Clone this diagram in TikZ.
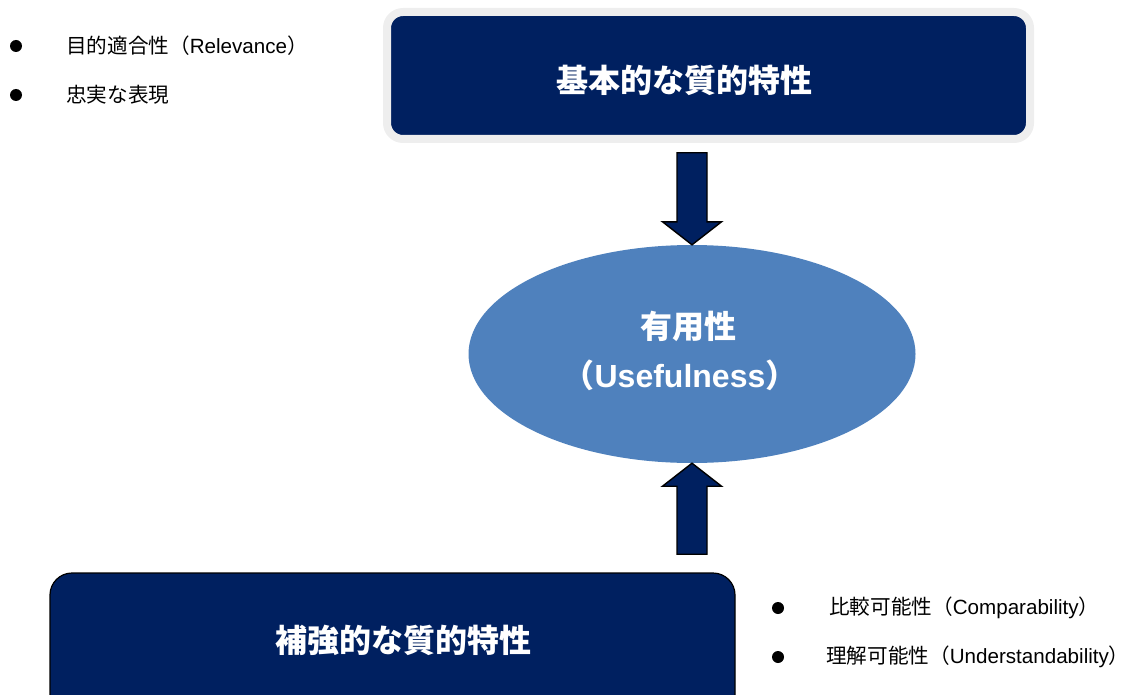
\documentclass[tikz,border=0pt]{standalone}
\usepackage{fontspec}
\setmainfont{Liberation Sans}
\newfontfamily\jp{Noto Sans CJK JP}
\usetikzlibrary{shapes.geometric}
\definecolor{navy}{RGB}{0,32,96}
\definecolor{ellblue}{RGB}{79,129,189}
\definecolor{rimgray}{RGB}{238,238,238}
\newcommand{\rpar}{\makebox[0.45em][l]{\jp ）}}
\tikzset{
  titlebox/.style={rounded corners=16pt, fill=navy, inner sep=0pt},
  titletext/.style={text=white, font=\jp\bfseries\fontsize{32}{36}\selectfont, inner sep=0pt},
  elltext/.style={text=white, font=\bfseries\fontsize{32}{36}\selectfont, inner sep=0pt},
  bigarrow/.style={fill=navy, draw=black, line width=1.4pt, line join=miter},
  dot/.style={circle, fill=black, inner sep=0pt, minimum size=12pt},
  itemtext/.style={anchor=west, inner sep=0pt, font=\fontsize{20.6}{24}\selectfont}
}
\begin{document}
\begin{tikzpicture}[x=1pt,y=-1pt]
\useasboundingbox (0,0) rectangle (1131,695);
\clip (0,0) rectangle (1131,695);
% top box
\node[titlebox, draw=rimgray, line width=8pt, minimum width=643pt, minimum height=127pt] (top) at (708.5,75.5) {};
\node[titletext] (toptext) at (684,80) {基本的な質的特性};
% ellipse
\node[ellipse, fill=ellblue, minimum width=447pt, minimum height=218pt, inner sep=0pt] (ell) at (692,354) {};
\node[elltext] (u1) at (688,326) {\jp 有用性};
\node[elltext] (u2) at (680,375) {{\jp （}Usefulness{\jp ）}};
% arrows
\draw[bigarrow] (ell.north) -- ++(-29.5,-23) -- ++(14.5,0) -- ++(0,-69) -- ++(30,0) -- ++(0,69) -- ++(14.5,0) -- cycle;
\draw[bigarrow] (ell.south) -- ++(-29.5,23) -- ++(14.5,0) -- ++(0,68) -- ++(30,0) -- ++(0,-68) -- ++(14.5,0) -- cycle;
% bottom box
\node[titlebox, rounded corners=22pt, draw=black, line width=1.2pt, minimum width=685pt, minimum height=160pt] (bot) at (392.5,653) {};
\node[titletext] (bottext) at (403,640) {補強的な質的特性};
% top-left list
\node[dot] (d1) at (16,46) {};
\node[itemtext] (t1) at (66,46) {{\jp 目的適合性（}Relevance\rpar};
\node[dot] (d2) at (16,95) {};
\node[itemtext] (t2) at (66,95) {\jp 忠実な表現};
% bottom-right list
\node[dot] (d3) at (778,608) {};
\node[itemtext] (t3) at (829,608) {{\jp 比較可能性（}Comparability\rpar};
\node[dot] (d4) at (778,657) {};
\node[itemtext] (t4) at (826,657) {{\jp 理解可能性（}Understandability\rpar};
\end{tikzpicture}
\end{document}
